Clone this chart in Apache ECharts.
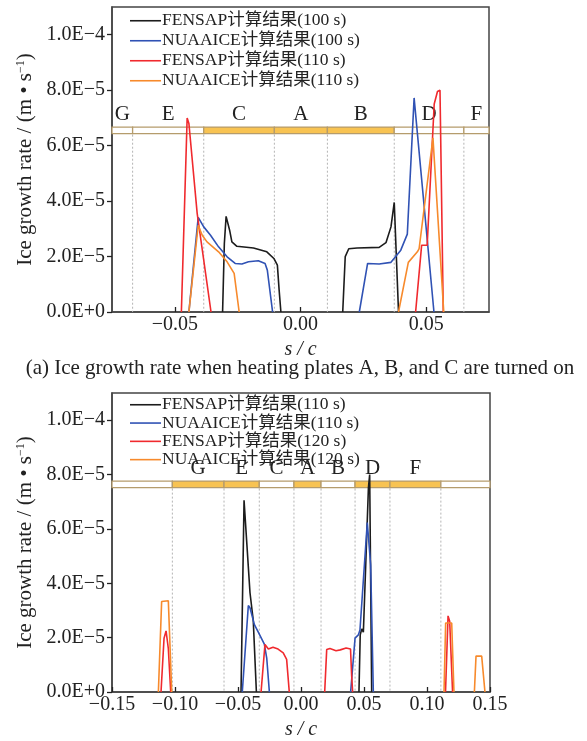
<!DOCTYPE html>
<html><head><meta charset="utf-8">
<script src="https://cdn.jsdelivr.net/npm/echarts@6/dist/echarts.min.js"></script>
<style>html,body{margin:0;padding:0;background:#fff}#chart{width:587px;height:741px}</style>
</head><body><div id="chart"></div>
<script>
// Ice growth rate along the surface, s/c, values in units of 1E-5 m/s.
// Each curve is a list of separate segments.

// (a) heating plates A, B, C on
const aFensap100 = [
  [[-0.0310,0],[-0.0303,2.47],[-0.0296,3.45],[-0.0289,3.45],[-0.0282,2.95],[-0.0273,2.53],[-0.0253,2.37],[-0.0187,2.31],[-0.0134,2.17],[-0.0106,1.93],[-0.0092,1.69],[-0.0085,0.79],[-0.0078,0]],
  [[0.0168,0],[0.0178,2.0],[0.0192,2.28],[0.0225,2.31],[0.0313,2.33],[0.0340,2.5],[0.0360,3.07],[0.0373,3.95],[0.0390,0]]
];
const aNuaaice100 = [
  [[-0.0444,0],[-0.0407,3.41],[-0.0385,3.07],[-0.0358,2.77],[-0.0326,2.35],[-0.0292,1.99],[-0.0260,1.75],[-0.0233,1.73],[-0.0207,1.81],[-0.0168,1.85],[-0.0141,1.75],[-0.0132,1.51],[-0.0111,0]],
  [[0.0234,0],[0.0267,1.75],[0.0313,1.73],[0.0360,1.79],[0.0399,2.23],[0.0425,2.81],[0.0452,7.72],[0.0531,0]]
];
const aFensap110 = [
  [[-0.0474,0],[-0.0451,7.0],[-0.0444,6.8],[-0.0411,3.55],[-0.0356,0]],
  [[0.0458,0],[0.0482,2.41],[0.0504,2.41],[0.0532,7.5],[0.0545,7.95],[0.0555,8.0],[0.0568,0]]
];
const aNuaaice110 = [
  [[-0.0444,0],[-0.0407,3.13],[-0.0391,2.77],[-0.0372,2.53],[-0.0326,2.17],[-0.0292,1.81],[-0.0264,1.39],[-0.0244,0]],
  [[0.0390,0],[0.0429,1.79],[0.0465,2.17],[0.0472,2.29],[0.0527,6.28],[0.0570,0]]
];
// heating plate layout: [start, end, powered(1/0)]
const aPlates = [[-0.075,-0.0668,0],[-0.0668,-0.0385,0],[-0.0385,-0.0104,1],[-0.0104,0.0107,1],[0.0107,0.0373,1],[0.0373,0.0650,0],[0.0650,0.075,0]];
const aPlateNames = ['G','E','C','A','B','D','F'];
const aXTicks = [-0.05, 0, 0.05];

// (b)
const bFensap110 = [
  [[-0.0476,0],[-0.0452,7.05],[-0.0405,3.66],[-0.0379,2.64],[-0.0354,0]],
  [[0.0460,0],[0.0470,2.1],[0.0482,2.32],[0.0495,2.2],[0.0535,7.5],[0.0545,8.0],[0.0553,8.0],[0.0561,0]]
];
const bNuaaice110 = [
  [[-0.0466,0],[-0.0418,3.18],[-0.0405,3.1],[-0.0370,2.48],[-0.0339,2.2],[-0.0291,1.76],[-0.0272,1.25],[-0.0251,0]],
  [[0.0394,0],[0.0429,1.98],[0.0455,2.1],[0.0468,2.28],[0.0482,2.34],[0.0526,6.23],[0.0534,6.29],[0.0553,4.68],[0.0574,0]]
];
const bFensap120 = [
  [[-0.1111,0],[-0.1087,1.98],[-0.1071,2.25],[-0.1053,1.6],[-0.1034,0]],
  [[-0.0317,0],[-0.0286,1.75],[-0.0259,1.58],[-0.0222,1.65],[-0.0182,1.58],[-0.0141,1.44],[-0.0114,1.2],[-0.0093,0]],
  [[0.0188,0],[0.0204,1.56],[0.0230,1.6],[0.0278,1.52],[0.0312,1.55],[0.0358,1.62],[0.0393,1.58],[0.0402,0.6],[0.0410,0]],
  [[0.1147,0],[0.1167,2.8],[0.1180,2.6],[0.1203,0]]
];
const bNuaaice120 = [
  [[-0.1132,0],[-0.1106,3.33],[-0.1053,3.36],[-0.1026,0]],
  [[0.1135,0],[0.1148,2.54],[0.1196,2.54],[0.1214,0]],
  [[0.1376,0],[0.1389,1.32],[0.1434,1.32],[0.1460,0]]
];
const bPlates = [[-0.15,-0.1021,0],[-0.1021,-0.0611,1],[-0.0611,-0.0331,1],[-0.0331,-0.0056,0],[-0.0056,0.0159,1],[0.0159,0.0429,0],[0.0429,0.0706,1],[0.0706,0.1110,1],[0.1110,0.15,0]];
const bPlateNames = ['','G','E','C','A','B','D','F',''];
const bXTicks = [-0.15, -0.10, -0.05, 0, 0.05, 0.10, 0.15];

const yTicks = [0, 2, 4, 6, 8, 10];
const yTickLabels = ['0.0E+0','2.0E\u22125','4.0E\u22125','6.0E\u22125','8.0E\u22125','1.0E\u22124'];

const legendA = ['FENSAP计算结果(100 s)','NUAAICE计算结果(100 s)','FENSAP计算结果(110 s)','NUAAICE计算结果(110 s)'];
const legendB = ['FENSAP计算结果(110 s)','NUAAICE计算结果(110 s)','FENSAP计算结果(120 s)','NUAAICE计算结果(120 s)'];

const SERIF = "'Liberation Serif','Times New Roman','Noto Sans CJK SC',serif";
const COLORS = ['#1c1c1c','#3052b4','#f02a2e','#f78a2c'];
const PLATE_ON = '#f8c352', PLATE_EDGE = '#b59c6c';

const chart = echarts.init(document.getElementById('chart'), null, {renderer:'canvas'});

function fmtX(v){
  const s = Math.abs(v).toFixed(2);
  return (v < -1e-9 ? '\u2212' : '') + s;
}
function fmtY(v){
  const i = yTicks.indexOf(Math.round(v));
  return i >= 0 ? yTickLabels[i] : '';
}

function makeX(gi, min, max, ticks){
  return {
    gridIndex: gi, type:'value', min, max,
    axisLine:{show:true, onZero:false, lineStyle:{color:'#444', width:1.5}},
    axisTick:{show:true, inside:true, length:5, customValues:ticks, lineStyle:{color:'#222', width:1.3}},
    axisLabel:{show:true, customValues:ticks, formatter:fmtX, fontFamily:SERIF, fontSize:20, color:'#222', margin:3},
    splitLine:{show:false},
    name:'s / c', nameLocation:'middle', nameGap:28,
    nameTextStyle:{fontFamily:SERIF, fontStyle:'italic', fontSize:20, color:'#222'}
  };
}
function makeY(gi){
  return {
    gridIndex: gi, type:'value', min:0, max:11,
    axisLine:{show:true, onZero:false, lineStyle:{color:'#444', width:1.5}},
    axisTick:{show:true, inside:false, length:5, customValues:yTicks, lineStyle:{color:'#222', width:1.3}},
    axisLabel:{customValues:yTicks, formatter:fmtY, fontFamily:SERIF, fontSize:20, color:'#222', margin:7},
    splitLine:{show:false},
    name:'Ice growth rate / (m \u2022 s{sup|\u22121})', nameLocation:'middle', nameGap:76,
    nameTextStyle:{fontFamily:SERIF, fontSize:21, color:'#222',
      rich:{sup:{fontFamily:SERIF, fontSize:12, color:'#222', verticalAlign:'top', padding:[0,0,9,0]}}}
  };
}

function lineSeries(prefix, name, segs, color, gi){
  return segs.map(seg => ({
    type:'line', name: prefix + name, xAxisIndex:gi, yAxisIndex:gi,
    data: seg, symbol:'none', smooth:false, animation:false,
    lineStyle:{color, width:1.6}, itemStyle:{color}, z:5
  }));
}

function plateSeries(plates, names, gi, yLo, yHi){
  return {
    type:'custom', xAxisIndex:gi, yAxisIndex:gi, data: plates, animation:false, z:3,
    renderItem(params, api){
      const s = api.value(0), e = api.value(1), on = api.value(2);
      const p0 = api.coord([s, yHi]), p1 = api.coord([e, yLo]), base = api.coord([e, 0]);
      const children = [{
        type:'rect', shape:{x:p0[0], y:p0[1], width:p1[0]-p0[0], height:p1[1]-p0[1]},
        style:{fill: on ? PLATE_ON : '#ffffff', stroke: PLATE_EDGE, lineWidth:1.3}
      }];
      const label = names[params.dataIndex];
      if (label) children.push({
        type:'text', x:(p0[0]+p1[0])/2, y:p0[1]-2,
        style:{text:label, font:'21px ' + SERIF, fill:'#222', align:'center', verticalAlign:'bottom'}
      });
      if (params.dataIndex < plates.length - 1) children.push({
        type:'line', shape:{x1:p1[0], y1:p1[1]+1, x2:p1[0], y2:base[1]},
        style:{stroke:'#b4b4b4', lineWidth:1, lineDash:[2,2]}
      });
      return {type:'group', children};
    }
  };
}

const series = [].concat(
  lineSeries('a:', legendA[0], aFensap100, COLORS[0], 0),
  lineSeries('a:', legendA[1], aNuaaice100, COLORS[1], 0),
  lineSeries('a:', legendA[2], aFensap110, COLORS[2], 0),
  lineSeries('a:', legendA[3], aNuaaice110, COLORS[3], 0),
  lineSeries('b:', legendB[0], bFensap110, COLORS[0], 1),
  lineSeries('b:', legendB[1], bNuaaice110, COLORS[1], 1),
  lineSeries('b:', legendB[2], bFensap120, COLORS[2], 1),
  lineSeries('b:', legendB[3], bNuaaice120, COLORS[3], 1),
  [plateSeries(aPlates, aPlateNames, 0, 6.43, 6.67), plateSeries(bPlates, bPlateNames, 1, 7.52, 7.76)]
);

function makeLegend(prefix, names, top, gap){
  return {
    orient:'vertical', left:130, top, itemGap:gap, itemWidth:31, itemHeight:1.6, icon:'rect',
    padding:0, selectedMode:false,
    data: names.map(n => prefix + n),
    formatter: n => n.slice(2),
    textStyle:{fontFamily:SERIF, fontSize:17.5, color:'#222', padding:[0,0,0,-4]}
  };
}

chart.setOption({
  backgroundColor:'#fff',
  animation:false,
  grid:[
    {left:112, top:7, width:377, height:305, show:true, borderColor:'#444', borderWidth:1.5, backgroundColor:'transparent'},
    {left:112, top:393, width:378, height:307, show:true, borderColor:'#444', borderWidth:1.5, backgroundColor:'transparent'}
  ],
  xAxis:[makeX(0, -0.075, 0.075, aXTicks), makeX(1, -0.15, 0.15, bXTicks)],
  yAxis:[makeY(0), makeY(1)],
  legend:[makeLegend('a:', legendA, 12, 2.5), makeLegend('b:', legendB, 396, 0.8)],
  graphic:[{
    type:'text', x:300, y:368,
    style:{text:'(a) Ice growth rate when heating plates A, B, and C are turned on', font:'21px ' + SERIF, fill:'#222', align:'center', verticalAlign:'middle'}
  }],
  series
});
</script></body></html>
